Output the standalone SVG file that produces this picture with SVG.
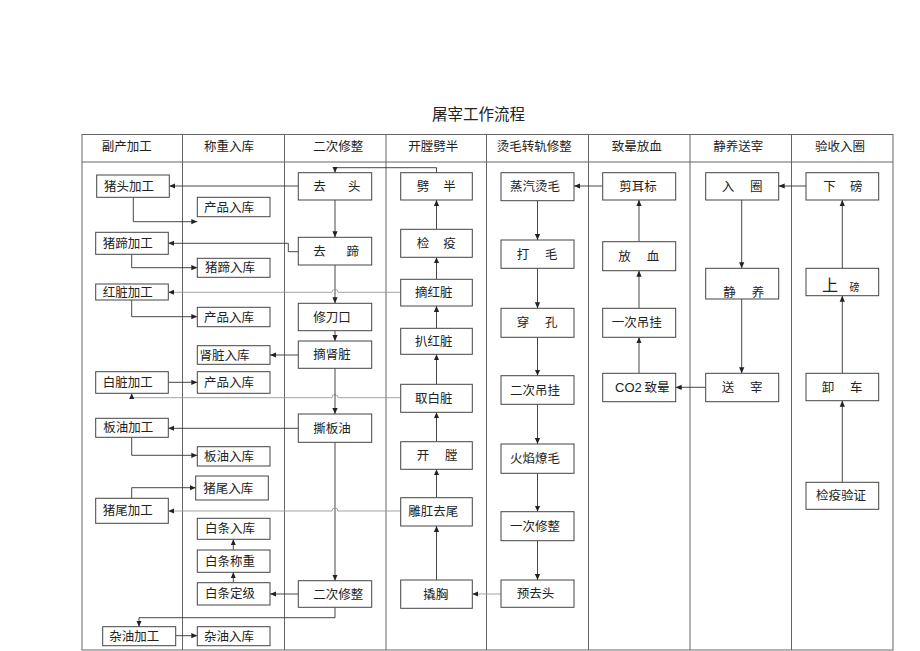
<svg xmlns="http://www.w3.org/2000/svg" width="920" height="651" viewBox="0 0 920 651">
<style>
.grid{fill:none;stroke:#666;stroke-width:1}
.box{fill:#fff;stroke:#444;stroke-width:1}
.t{font-family:"Noto Sans CJK SC","Liberation Sans",sans-serif;font-size:12.5px;fill:#222}
.h{font-family:"Noto Sans CJK SC","Liberation Sans",sans-serif;font-size:12.5px;fill:#222}
.title{font-family:"Noto Sans CJK SC","Liberation Sans",sans-serif;font-size:15.5px;fill:#222}
.c{fill:none;stroke:#333;stroke-width:0.9;marker-end:url(#a)}
.l{stroke:#999}
</style>
<defs>
<marker id="a" viewBox="0 0 6 6" refX="6" refY="3" markerWidth="6" markerHeight="6" markerUnits="userSpaceOnUse" orient="auto">
<path d="M0,0.4 L6,3 L0,5.6 z" fill="#222"/>
</marker>
</defs>
<rect width="920" height="651" fill="#fff"/>
<text class="title" x="432" y="120">屠宰工作流程</text>
<g id="table">
<rect class="grid" x="82" y="134.5" width="811" height="515.5"/>
<path class="grid" d="M82,162 H893 M182.5,134.5 V650 M284.5,134.5 V650 M386,134.5 V650 M486.5,134.5 V650 M588.5,134.5 V650 M690,134.5 V650 M791.5,134.5 V650"/>
<text class="h" x="101.7" y="151">副产加工</text>
<text class="h" x="204" y="151">称重入库</text>
<text class="h" x="313.3" y="151">二次修整</text>
<text class="h" x="408.3" y="151">开膛劈半</text>
<text class="h" x="496.7" y="151">烫毛转轨修整</text>
<text class="h" x="611.7" y="151">致晕放血</text>
<text class="h" x="713.3" y="151">静养送宰</text>
<text class="h" x="815" y="151">验收入圈</text>
</g>
<g id="connectors">
<path class="c" d="M298.3,186 H169.3"/>
<path class="c" d="M133.3,197.3 V221.7 H197.3"/>
<path class="c" d="M436.5,172.7 V167.7 H335 V172.7"/>
<path class="c" d="M335,200 V237.3"/>
<path class="c" d="M298.3,251.7 H288.3 V243.3 H168.3"/>
<path class="c" d="M131.7,254.3 V267.7 H197.3"/>
<path class="c" d="M335,265 V303.3"/>
<path class="c l" d="M400.7,292.3 H338 a3,3 0 0 0 -6,0 H168.3"/>
<path class="c" d="M131.7,300 V316.7 H197.3"/>
<path class="c" d="M335,330.7 V341"/>
<path class="c" d="M298.3,355 H270"/>
<path class="c" d="M168.3,382.3 H197.3"/>
<path class="c l" d="M400.7,397.7 H338 a3,3 0 0 0 -6,0 H131.7 V393.3"/>
<path class="c" d="M335,368.3 V414"/>
<path class="c" d="M298.3,428.3 H168.3"/>
<path class="c" d="M131.7,437.3 V455.3 H197.3"/>
<path class="c" d="M335,442.3 V580.7"/>
<path class="c l" d="M400.7,511 H338 a3,3 0 0 0 -6,0 H168.3"/>
<path class="c" d="M131.7,498.3 V487.7 H195.7"/>
<path class="c" d="M233.3,550 V539.3"/>
<path class="c" d="M233.3,582.7 V572.3"/>
<path class="c" d="M298.3,594 H270"/>
<path class="c" d="M335,607.3 V617.7 H139 V626.7"/>
<path class="c" d="M175.7,635.7 H197.3"/>
<path class="c l" d="M501,594 H472.3"/>
<path class="c" d="M436.5,580 V526"/>
<path class="c" d="M436.5,497.7 V469.3"/>
<path class="c" d="M436.5,441.7 V412.3"/>
<path class="c" d="M436.5,384.3 V354.3"/>
<path class="c" d="M436.5,328.3 V306"/>
<path class="c" d="M436.5,279.3 V257.3"/>
<path class="c" d="M436.5,229.3 V200"/>
<path class="c" d="M537.5,200.7 V240"/>
<path class="c" d="M537.5,268.3 V308.3"/>
<path class="c" d="M537.5,337.3 V375.7"/>
<path class="c" d="M537.5,404.3 V444"/>
<path class="c" d="M537.5,473.3 V511.7"/>
<path class="c" d="M537.5,540.7 V580"/>
<path class="c" d="M602.7,186 H574"/>
<path class="c" d="M639,373.3 V337.3"/>
<path class="c" d="M639,308.3 V270.7"/>
<path class="c" d="M639,241.7 V200"/>
<path class="c" d="M705.7,387.3 H675.7"/>
<path class="c" d="M741.7,200 V268.3"/>
<path class="c" d="M741.7,299 V373.3"/>
<path class="c" d="M806,186 H778.7"/>
<path class="c" d="M842.3,482.3 V400.7"/>
<path class="c" d="M842.3,373.3 V295.7"/>
<path class="c" d="M842.3,268.3 V200"/>
</g>
<g id="n_zhutoujiagong"><rect class="box" x="96.7" y="175" width="72.6" height="22.3"/><text class="t" x="104" y="190.5">猪头加工</text></g>
<g id="n_zhutijiagong"><rect class="box" x="95.7" y="232.3" width="72.6" height="22"/><text class="t" x="102.7" y="247.5">猪蹄加工</text></g>
<g id="n_hongzangjiagong"><rect class="box" x="95.7" y="284" width="72.6" height="16"/><text class="t" x="102.7" y="296.5">红脏加工</text></g>
<g id="n_baizangjiagong"><rect class="box" x="95.7" y="371.7" width="72.6" height="21.6"/><text class="t" x="102.7" y="387">白脏加工</text></g>
<g id="n_banyoujiagong"><rect class="box" x="95.7" y="418.3" width="72.6" height="19"/><text class="t" x="103.3" y="432.3">板油加工</text></g>
<g id="n_zhuweijiagong"><rect class="box" x="95.7" y="498.3" width="72.6" height="25"/><text class="t" x="102.7" y="515.3">猪尾加工</text></g>
<g id="n_zayoujiagong"><rect class="box" x="102.7" y="626.7" width="73" height="19"/><text class="t" x="109.3" y="640.7">杂油加工</text></g>
<g id="n_chanpin1"><rect class="box" x="197.3" y="197.3" width="72.7" height="19.4"/><text class="t" x="204" y="211.5">产品入库</text></g>
<g id="n_zhutiruku"><rect class="box" x="197.3" y="258.3" width="72.7" height="19"/><text class="t" x="205" y="272.3">猪蹄入库</text></g>
<g id="n_chanpin2"><rect class="box" x="197.3" y="307.3" width="72.7" height="19.4"/><text class="t" x="204" y="321.5">产品入库</text></g>
<g id="n_shenzangruku"><rect class="box" x="197.3" y="345.7" width="72.7" height="18.6"/><text class="t" x="199.5" y="359.5">肾脏入库</text></g>
<g id="n_chanpin3"><rect class="box" x="197.3" y="371.7" width="72.7" height="21.6"/><text class="t" x="204" y="387">产品入库</text></g>
<g id="n_banyouruku"><rect class="box" x="197.3" y="446.7" width="72.7" height="19.3"/><text class="t" x="204" y="460.8">板油入库</text></g>
<g id="n_zhuweiruku"><rect class="box" x="195.7" y="476" width="72.6" height="24"/><text class="t" x="203.3" y="492.5">猪尾入库</text></g>
<g id="n_baitiaoruku"><rect class="box" x="197.3" y="518.3" width="72.7" height="21"/><text class="t" x="205" y="533.3">白条入库</text></g>
<g id="n_baitiaochengzhong"><rect class="box" x="197.3" y="550" width="72.7" height="22.3"/><text class="t" x="205" y="565.6">白条称重</text></g>
<g id="n_baitiaodingji"><rect class="box" x="197.3" y="582.7" width="72.7" height="22.3"/><text class="t" x="205" y="598.3">白条定级</text></g>
<g id="n_zayouruku"><rect class="box" x="197.3" y="626.7" width="72.7" height="19"/><text class="t" x="204" y="640.7">杂油入库</text></g>
<g id="n_qutou"><rect class="box" x="298.3" y="172.7" width="73.4" height="27.3"/><text class="t"><tspan x="313.3" y="190.8">去</tspan> <tspan x="348" y="190.8">头</tspan></text></g>
<g id="n_quti"><rect class="box" x="298.3" y="237.3" width="73.4" height="27.7"/><text class="t"><tspan x="313.3" y="255.6">去</tspan> <tspan x="346.6" y="255.6">蹄</tspan></text></g>
<g id="n_xiudaokou"><rect class="box" x="298.3" y="303.3" width="73.4" height="27.4"/><text class="t" x="313.3" y="321.5">修刀口</text></g>
<g id="n_zhaishenzang"><rect class="box" x="298.3" y="341" width="73.4" height="27.3"/><text class="t" x="313.3" y="359.2">摘肾脏</text></g>
<g id="n_sibanyou"><rect class="box" x="298.3" y="414" width="73.4" height="28.3"/><text class="t" x="313.3" y="432.6">撕板油</text></g>
<g id="n_ercixiuzheng"><rect class="box" x="298.3" y="580.7" width="73.4" height="26.6"/><text class="t" x="313.3" y="598.5">二次修整</text></g>
<g id="n_piban"><rect class="box" x="400.7" y="172.7" width="71.6" height="27.3"/><text class="t"><tspan x="416.7" y="190.8">劈</tspan> <tspan x="443.3" y="190.8">半</tspan></text></g>
<g id="n_jianyi"><rect class="box" x="400.7" y="229.3" width="71.6" height="28"/><text class="t"><tspan x="416.7" y="247.8">检</tspan> <tspan x="443.3" y="247.8">疫</tspan></text></g>
<g id="n_zhaihongzang"><rect class="box" x="400.7" y="279.3" width="71.6" height="26.7"/><text class="t" x="415" y="297.2">摘红脏</text></g>
<g id="n_pahongzang"><rect class="box" x="400.7" y="328.3" width="71.6" height="26"/><text class="t" x="415" y="345.8">扒红脏</text></g>
<g id="n_qubaizang"><rect class="box" x="400.7" y="384.3" width="71.6" height="28"/><text class="t" x="415" y="402.8">取白脏</text></g>
<g id="n_kaitang"><rect class="box" x="400.7" y="441.7" width="71.6" height="27.6"/><text class="t"><tspan x="416.7" y="460">开</tspan> <tspan x="445" y="460">膛</tspan></text></g>
<g id="n_diaogangquwei"><rect class="box" x="400.7" y="497.7" width="71.6" height="28.3"/><text class="t" x="408.3" y="516.3">雕肛去尾</text></g>
<g id="n_qiaoxiong"><rect class="box" x="400.7" y="580" width="71.6" height="28.3"/><text class="t" x="423.3" y="598.6">撬胸</text></g>
<g id="n_zhengqitangmao"><rect class="box" x="501" y="172.7" width="73" height="28"/><text class="t" x="510" y="191.2">蒸汽烫毛</text></g>
<g id="n_damao"><rect class="box" x="501" y="240" width="73" height="28.3"/><text class="t"><tspan x="516.7" y="258.6">打</tspan> <tspan x="545" y="258.6">毛</tspan></text></g>
<g id="n_chuankong"><rect class="box" x="501" y="308.3" width="73" height="29"/><text class="t"><tspan x="516.7" y="327.3">穿</tspan> <tspan x="545" y="327.3">孔</tspan></text></g>
<g id="n_ercidiaogua"><rect class="box" x="501" y="375.7" width="73" height="28.6"/><text class="t" x="510" y="394.5">二次吊挂</text></g>
<g id="n_huoyanliaomao"><rect class="box" x="501" y="444" width="73" height="29.3"/><text class="t" x="510" y="463.2">火焰燎毛</text></g>
<g id="n_yicixiuzheng"><rect class="box" x="501" y="511.7" width="73" height="29"/><text class="t" x="510" y="530.7">一次修整</text></g>
<g id="n_yuqutou"><rect class="box" x="501" y="580" width="73" height="27.3"/><text class="t" x="516.7" y="598.2">预去头</text></g>
<g id="n_jianerbiao"><rect class="box" x="602.7" y="172.7" width="73" height="27.3"/><text class="t" x="619.3" y="190.8">剪耳标</text></g>
<g id="n_fangxue"><rect class="box" x="602.7" y="241.7" width="73" height="29"/><text class="t"><tspan x="618.3" y="260.7">放</tspan> <tspan x="646.7" y="260.7">血</tspan></text></g>
<g id="n_yicidiaogua"><rect class="box" x="602.7" y="308.3" width="73" height="29"/><text class="t" x="611.7" y="327.3">一次吊挂</text></g>
<g id="n_co2"><rect class="box" x="602.7" y="373.3" width="73" height="28.4"/><text class="t" x="615" y="392"><tspan font-family="Liberation Sans, sans-serif" font-size="13">CO2</tspan> 致晕</text></g>
<g id="n_ruquan"><rect class="box" x="705.7" y="172.7" width="73" height="27.3"/><text class="t"><tspan x="721.7" y="190.8">入</tspan> <tspan x="750" y="190.8">圈</tspan></text></g>
<g id="n_jingyang"><rect class="box" x="705.7" y="268.3" width="73" height="30.7"/><text class="t"><tspan x="723.3" y="296.5">静</tspan> <tspan x="751.7" y="296.5">养</tspan></text></g>
<g id="n_songzai"><rect class="box" x="705.7" y="373.3" width="73" height="28.4"/><text class="t"><tspan x="721.7" y="392">送</tspan> <tspan x="750" y="392">宰</tspan></text></g>
<g id="n_xiabang"><rect class="box" x="806" y="172.7" width="72.7" height="27.3"/><text class="t"><tspan x="823.3" y="190.8">下</tspan> <tspan x="850" y="190.8">磅</tspan></text></g>
<g id="n_shangbang"><rect class="box" x="806" y="268.3" width="72.7" height="27.4"/><text class="t"><tspan x="822" y="290.5" font-size="16">上</tspan> <tspan x="849.5" y="290.5" font-size="10">磅</tspan></text></g>
<g id="n_xieche"><rect class="box" x="806" y="373.3" width="72.7" height="27.4"/><text class="t"><tspan x="821.7" y="391.5">卸</tspan> <tspan x="850" y="391.5">车</tspan></text></g>
<g id="n_jianyiyanzheng"><rect class="box" x="806" y="482.3" width="72.7" height="27"/><text class="t" x="816" y="500.3">检疫验证</text></g>
</svg>
